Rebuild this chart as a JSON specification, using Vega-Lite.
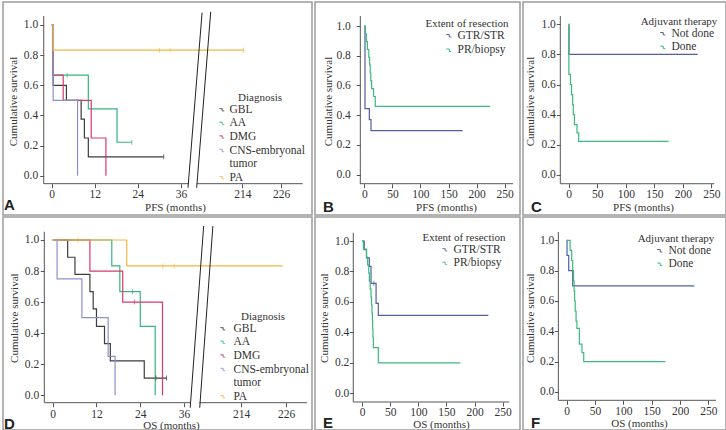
{
  "$schema": "https://vega.github.io/schema/vega-lite/v6.json",
  "padding": {"left": 2, "top": 1, "right": 0, "bottom": 0},
  "datasets": {
    "pfs_dx": [
      {"g": "GBL", "t": 0, "s": 1}, {"g": "GBL", "t": 0.4, "s": 0.6}, {"g": "GBL", "t": 4.1, "s": 0.5}, {"g": "GBL", "t": 8.2, "s": 0.375}, {"g": "GBL", "t": 9.1, "s": 0.25}, {"g": "GBL", "t": 10.2, "s": 0.125}, {"g": "GBL", "t": 31.2, "s": 0.125},
      {"g": "AA", "t": 0, "s": 1}, {"g": "AA", "t": 0.4, "s": 0.667}, {"g": "AA", "t": 10.2, "s": 0.444}, {"g": "AA", "t": 18.2, "s": 0.222}, {"g": "AA", "t": 22.3, "s": 0.222},
      {"g": "DMG", "t": 0, "s": 1}, {"g": "DMG", "t": 0.4, "s": 0.667}, {"g": "DMG", "t": 3.2, "s": 0.5}, {"g": "DMG", "t": 11.0, "s": 0.25}, {"g": "DMG", "t": 15.1, "s": 0},
      {"g": "CNS-embryonal tumor", "t": 0, "s": 1}, {"g": "CNS-embryonal tumor", "t": 0.4, "s": 0.5}, {"g": "CNS-embryonal tumor", "t": 7.2, "s": 0},
      {"g": "PA", "t": 0, "s": 1}, {"g": "PA", "t": 0.4, "s": 0.833}, {"g": "PA", "t": 214.4, "s": 0.833}
    ],
    "pfs_dx_cens": [
      {"g": "GBL", "t": 31.2, "s": 0.125},
      {"g": "AA", "t": 4.3, "s": 0.667}, {"g": "AA", "t": 22.3, "s": 0.222},
      {"g": "PA", "t": 30.0, "s": 0.833}, {"g": "PA", "t": 33.0, "s": 0.833}, {"g": "PA", "t": 214.4, "s": 0.833}
    ],
    "os_dx": [
      {"g": "GBL", "t": 0, "s": 1}, {"g": "GBL", "t": 4.1, "s": 0.889}, {"g": "GBL", "t": 6.1, "s": 0.778}, {"g": "GBL", "t": 10.2, "s": 0.667}, {"g": "GBL", "t": 11.1, "s": 0.556}, {"g": "GBL", "t": 12.0, "s": 0.444}, {"g": "GBL", "t": 14.2, "s": 0.333}, {"g": "GBL", "t": 15.8, "s": 0.222}, {"g": "GBL", "t": 25.1, "s": 0.111}, {"g": "GBL", "t": 31.2, "s": 0.111},
      {"g": "AA", "t": 0, "s": 1}, {"g": "AA", "t": 16.2, "s": 0.833}, {"g": "AA", "t": 18.4, "s": 0.667}, {"g": "AA", "t": 24.0, "s": 0.444}, {"g": "AA", "t": 28.1, "s": 0},
      {"g": "DMG", "t": 0, "s": 1}, {"g": "DMG", "t": 10.2, "s": 0.8}, {"g": "DMG", "t": 19.2, "s": 0.6}, {"g": "DMG", "t": 30.1, "s": 0},
      {"g": "CNS-embryonal tumor", "t": 0, "s": 1}, {"g": "CNS-embryonal tumor", "t": 1.2, "s": 0.75}, {"g": "CNS-embryonal tumor", "t": 8.0, "s": 0.5}, {"g": "CNS-embryonal tumor", "t": 15.2, "s": 0.25}, {"g": "CNS-embryonal tumor", "t": 17.1, "s": 0},
      {"g": "PA", "t": 0, "s": 1}, {"g": "PA", "t": 20.3, "s": 0.833}, {"g": "PA", "t": 225.1, "s": 0.833}
    ],
    "os_dx_cens": [
      {"g": "GBL", "t": 28.3, "s": 0.111}, {"g": "GBL", "t": 31.2, "s": 0.111},
      {"g": "AA", "t": 21.9, "s": 0.667},
      {"g": "DMG", "t": 22.4, "s": 0.6},
      {"g": "PA", "t": 7.0, "s": 1}, {"g": "PA", "t": 30.2, "s": 0.833}, {"g": "PA", "t": 33.3, "s": 0.833}
    ],
    "pfs_eor": [
      {"g": "GTR/STR", "t": 0, "s": 1}, {"g": "GTR/STR", "t": 1.2, "s": 0.444}, {"g": "GTR/STR", "t": 8.9, "s": 0.37}, {"g": "GTR/STR", "t": 11.9, "s": 0.296}, {"g": "GTR/STR", "t": 175.2, "s": 0.296},
      {"g": "PR/biopsy", "t": 0, "s": 1}, {"g": "PR/biopsy", "t": 1.8, "s": 0.947}, {"g": "PR/biopsy", "t": 3.5, "s": 0.895}, {"g": "PR/biopsy", "t": 5.5, "s": 0.842}, {"g": "PR/biopsy", "t": 8.0, "s": 0.789}, {"g": "PR/biopsy", "t": 9.5, "s": 0.737}, {"g": "PR/biopsy", "t": 10.5, "s": 0.684}, {"g": "PR/biopsy", "t": 11.5, "s": 0.632}, {"g": "PR/biopsy", "t": 13.0, "s": 0.579}, {"g": "PR/biopsy", "t": 16.5, "s": 0.526}, {"g": "PR/biopsy", "t": 19.5, "s": 0.46}, {"g": "PR/biopsy", "t": 224.0, "s": 0.46}
    ],
    "os_eor": [
      {"g": "GTR/STR", "t": 0, "s": 1}, {"g": "GTR/STR", "t": 4.0, "s": 0.944}, {"g": "GTR/STR", "t": 8.0, "s": 0.889}, {"g": "GTR/STR", "t": 13.0, "s": 0.833}, {"g": "GTR/STR", "t": 16.0, "s": 0.722}, {"g": "GTR/STR", "t": 25.0, "s": 0.59}, {"g": "GTR/STR", "t": 29.0, "s": 0.512}, {"g": "GTR/STR", "t": 224.4, "s": 0.512},
      {"g": "PR/biopsy", "t": 0, "s": 1}, {"g": "PR/biopsy", "t": 2.5, "s": 0.947}, {"g": "PR/biopsy", "t": 8.0, "s": 0.895}, {"g": "PR/biopsy", "t": 10.0, "s": 0.842}, {"g": "PR/biopsy", "t": 12.0, "s": 0.789}, {"g": "PR/biopsy", "t": 13.0, "s": 0.737}, {"g": "PR/biopsy", "t": 14.5, "s": 0.684}, {"g": "PR/biopsy", "t": 16.0, "s": 0.632}, {"g": "PR/biopsy", "t": 17.0, "s": 0.579}, {"g": "PR/biopsy", "t": 17.8, "s": 0.526}, {"g": "PR/biopsy", "t": 18.5, "s": 0.474}, {"g": "PR/biopsy", "t": 19.0, "s": 0.421}, {"g": "PR/biopsy", "t": 19.5, "s": 0.368}, {"g": "PR/biopsy", "t": 20.2, "s": 0.3}, {"g": "PR/biopsy", "t": 29.0, "s": 0.2}, {"g": "PR/biopsy", "t": 174.7, "s": 0.2}
    ],
    "os_eor_cens": [
      {"g": "GTR/STR", "t": 21.0, "s": 0.722}
    ],
    "pfs_adj": [
      {"g": "Not done", "t": 0, "s": 1}, {"g": "Not done", "t": 0.5, "s": 0.8}, {"g": "Not done", "t": 226.0, "s": 0.8},
      {"g": "Done", "t": 0, "s": 1}, {"g": "Done", "t": 0.3, "s": 0.667}, {"g": "Done", "t": 3.0, "s": 0.6}, {"g": "Done", "t": 5.0, "s": 0.533}, {"g": "Done", "t": 7.0, "s": 0.467}, {"g": "Done", "t": 8.0, "s": 0.4}, {"g": "Done", "t": 10.0, "s": 0.333}, {"g": "Done", "t": 14.5, "s": 0.278}, {"g": "Done", "t": 17.5, "s": 0.222}, {"g": "Done", "t": 175.0, "s": 0.222}
    ],
    "os_adj": [
      {"g": "Not done", "t": 0, "s": 1}, {"g": "Not done", "t": 0.5, "s": 0.9}, {"g": "Not done", "t": 3.5, "s": 0.8}, {"g": "Not done", "t": 10.6, "s": 0.7}, {"g": "Not done", "t": 225.3, "s": 0.7},
      {"g": "Done", "t": 0, "s": 1}, {"g": "Done", "t": 6.0, "s": 0.933}, {"g": "Done", "t": 8.8, "s": 0.867}, {"g": "Done", "t": 10.6, "s": 0.8}, {"g": "Done", "t": 12.0, "s": 0.733}, {"g": "Done", "t": 13.0, "s": 0.667}, {"g": "Done", "t": 14.0, "s": 0.6}, {"g": "Done", "t": 15.0, "s": 0.533}, {"g": "Done", "t": 16.5, "s": 0.467}, {"g": "Done", "t": 18.0, "s": 0.42}, {"g": "Done", "t": 22.3, "s": 0.315}, {"g": "Done", "t": 27.0, "s": 0.26}, {"g": "Done", "t": 30.0, "s": 0.2}, {"g": "Done", "t": 174.0, "s": 0.2}
    ]
  },
  "columns": 3,
  "spacing": {"row": 2, "column": 3},
  "bounds": "flush",
  "resolve": {"scale": {"x": "independent", "y": "independent", "color": "independent"}, "legend": {"color": "independent"}},
  "concat": [
    {
      "width": 309, "height": 213,
      "title": {"text": "A", "orient": "bottom", "anchor": "start", "frame": "group", "offset": -17, "dx": 1},
      "layer": [
        {
          "data": {"name": "pfs_dx"},
          "mark": {"type": "line", "interpolate": "step-after", "strokeWidth": 1.2},
          "encoding": {
            "x": {"field": "t", "type": "quantitative",
                  "scale": {"domain": [-13.57, 40, 199.4, 235.6], "range": [0, 192.3, 192.3, 309], "nice": false, "zero": false},
                  "axis": {"values": [0, 12, 24, 36, 214, 226], "title": "PFS (months)", "offset": -31.3, "titleX": 172, "titlePadding": 1.3, "labelPadding": 0.5}},
            "y": {"field": "s", "type": "quantitative",
                  "scale": {"domain": [-0.2608, 1.1526], "nice": false, "zero": false},
                  "axis": {"values": [0, 0.2, 0.4, 0.6, 0.8, 1], "format": ".1f", "title": "Cumulative survival", "offset": -40.7, "titleY": 99, "titlePadding": 5, "labelPadding": 2}},
            "color": {"field": "g", "type": "nominal",
                      "scale": {"domain": ["GBL", "AA", "DMG", "CNS-embryonal tumor", "tumor", "PA"], "range": ["#3d3d3d", "#35b57c", "#d8386f", "#8d90cc", "transparent", "#f3b73f"]},
                      "legend": {"title": "Diagnosis", "orient": "none", "legendX": 213, "legendY": 90, "labelOffset": 2,
                                 "labelExpr": "datum.label == 'CNS-embryonal tumor' ? 'CNS-embryonal' : datum.label"}}
          }
        },
        {
          "data": {"name": "pfs_dx_cens"},
          "mark": {"type": "tick", "orient": "vertical", "size": 5, "thickness": 1},
          "encoding": {"x": {"field": "t", "type": "quantitative"}, "y": {"field": "s", "type": "quantitative"}, "color": {"field": "g", "type": "nominal"}}
        },
        {"data": {"values": [{}]}, "mark": {"type": "rule", "color": "#555", "strokeWidth": 1},
         "encoding": {"x": {"datum": -2.23, "type": "quantitative"}, "x2": {"datum": 38.2}, "y": {"datum": -0.053, "type": "quantitative"}}},
        {"data": {"values": [{}]}, "mark": {"type": "rule", "color": "#555", "strokeWidth": 1},
         "encoding": {"x": {"datum": 199.9, "type": "quantitative"}, "x2": {"datum": 232.7}, "y": {"datum": -0.053, "type": "quantitative"}}},
        {"data": {"values": [{}]}, "mark": {"type": "rule", "color": "#555", "strokeWidth": 1},
         "encoding": {"x": {"datum": -2.23, "type": "quantitative"}, "y": {"datum": -0.053, "type": "quantitative"}, "y2": {"datum": 1.06}}},
        {"data": {"values": [{}]}, "mark": {"type": "rule", "color": "#222", "strokeWidth": 1},
         "encoding": {"x": {"datum": 37.97, "type": "quantitative"}, "x2": {"datum": 201.5}, "y": {"datum": -0.08, "type": "quantitative"}, "y2": {"datum": 1.082}}},
        {"data": {"values": [{}]}, "mark": {"type": "rule", "color": "#222", "strokeWidth": 1},
         "encoding": {"x": {"datum": 199.83, "type": "quantitative"}, "x2": {"datum": 204.18}, "y": {"datum": -0.08, "type": "quantitative"}, "y2": {"datum": 1.088}}}
      ]
    },
    {
      "width": 205, "height": 213,
      "title": {"text": "B", "orient": "bottom", "anchor": "start", "frame": "group", "offset": -15, "dx": 8},
      "layer": [
        {
          "data": {"name": "pfs_eor"},
          "mark": {"type": "line", "interpolate": "step-after", "strokeWidth": 1.2},
          "encoding": {
            "x": {"field": "t", "type": "quantitative",
                  "scale": {"domain": [-87.8, 277.2], "nice": false, "zero": false},
                  "axis": {"values": [0, 50, 100, 150, 200, 250], "title": "PFS (months)", "offset": -31.3, "titleX": 131, "titlePadding": 1.3, "labelPadding": 1}},
            "y": {"field": "s", "type": "quantitative",
                  "scale": {"domain": [-0.271, 1.1614], "nice": false, "zero": false},
                  "axis": {"values": [0, 0.2, 0.4, 0.6, 0.8, 1], "format": ".1f", "title": "Cumulative survival", "offset": -45.3, "titleY": 99, "titlePadding": 2, "labelPadding": 6}},
            "color": {"field": "g", "type": "nominal",
                      "scale": {"domain": ["GTR/STR", "PR/biopsy"], "range": ["#53609f", "#3cb97f"]},
                      "legend": {"title": "Extent of resection", "orient": "none", "legendX": 110, "legendY": 16, "symbolOffset": 15, "rowPadding": 1.5}}
          }
        },
        {"data": {"values": [{}]}, "mark": {"type": "rule", "color": "#555", "strokeWidth": 1},
         "encoding": {"x": {"datum": -8.0, "type": "quantitative"}, "x2": {"datum": 264.8}, "y": {"datum": -0.0605, "type": "quantitative"}}},
        {"data": {"values": [{}]}, "mark": {"type": "rule", "color": "#555", "strokeWidth": 1},
         "encoding": {"x": {"datum": -7.1, "type": "quantitative"}, "y": {"datum": -0.0605, "type": "quantitative"}, "y2": {"datum": 1.067}}}
      ]
    },
    {
      "width": 203, "height": 213,
      "title": {"text": "C", "orient": "bottom", "anchor": "start", "frame": "group", "offset": -15, "dx": 8},
      "layer": [
        {
          "data": {"name": "pfs_adj"},
          "mark": {"type": "line", "interpolate": "step-after", "strokeWidth": 1.2},
          "encoding": {
            "x": {"field": "t", "type": "quantitative",
                  "scale": {"domain": [-80, 275.4], "nice": false, "zero": false},
                  "axis": {"values": [0, 50, 100, 150, 200, 250], "title": "PFS (months)", "offset": -31.3, "titleX": 120, "titlePadding": 1.3, "labelPadding": 1}},
            "y": {"field": "s", "type": "quantitative",
                  "scale": {"domain": [-0.268, 1.149], "nice": false, "zero": false},
                  "axis": {"values": [0, 0.2, 0.4, 0.6, 0.8, 1], "format": ".1f", "title": "Cumulative survival", "offset": -37.3, "titleY": 99, "titlePadding": 5, "labelPadding": 1}},
            "color": {"field": "g", "type": "nominal",
                      "scale": {"domain": ["Not done", "Done"], "range": ["#53609f", "#3cb97f"]},
                      "legend": {"title": "Adjuvant therapy", "orient": "none", "legendX": 118, "legendY": 14, "symbolOffset": 13}}
          }
        },
        {"data": {"values": [{}]}, "mark": {"type": "rule", "color": "#555", "strokeWidth": 1},
         "encoding": {"x": {"datum": -14.7, "type": "quantitative"}, "x2": {"datum": 254.9}, "y": {"datum": -0.06, "type": "quantitative"}}},
        {"data": {"values": [{}]}, "mark": {"type": "rule", "color": "#555", "strokeWidth": 1},
         "encoding": {"x": {"datum": -14.7, "type": "quantitative"}, "y": {"datum": -0.06, "type": "quantitative"}, "y2": {"datum": 1.056}}}
      ]
    },
    {
      "width": 309, "height": 213,
      "title": {"text": "D", "orient": "bottom", "anchor": "start", "frame": "group", "offset": -14, "dx": 1},
      "layer": [
        {
          "data": {"name": "os_dx"},
          "mark": {"type": "line", "interpolate": "step-after", "strokeWidth": 1.2},
          "encoding": {
            "x": {"field": "t", "type": "quantitative",
                  "scale": {"domain": [-13.63, 40, 202.7, 232.9], "range": [0, 195.6, 195.6, 309], "nice": false, "zero": false},
                  "axis": {"values": [0, 12, 24, 36, 214, 226], "title": "OS (months)", "offset": -27.3, "titleX": 168, "titlePadding": 0, "labelPadding": 1.5}},
            "y": {"field": "s", "type": "quantitative",
                  "scale": {"domain": [-0.2234, 1.148], "nice": false, "zero": false},
                  "axis": {"values": [0, 0.2, 0.4, 0.6, 0.8, 1], "format": ".1f", "title": "Cumulative survival", "offset": -41.3, "titleY": 100.7, "titlePadding": 5, "labelPadding": 1.6}},
            "color": {"field": "g", "type": "nominal",
                      "scale": {"domain": ["GBL", "AA", "DMG", "CNS-embryonal tumor", "tumor", "PA"], "range": ["#3d3d3d", "#35b57c", "#d8386f", "#8d90cc", "transparent", "#f3b73f"]},
                      "legend": {"title": "Diagnosis", "orient": "none", "legendX": 214, "legendY": 94, "labelOffset": 5,
                                 "labelExpr": "datum.label == 'CNS-embryonal tumor' ? 'CNS-embryonal' : datum.label"}}
          }
        },
        {
          "data": {"name": "os_dx_cens"},
          "mark": {"type": "tick", "orient": "vertical", "size": 5, "thickness": 1},
          "encoding": {"x": {"field": "t", "type": "quantitative"}, "y": {"field": "s", "type": "quantitative"}, "color": {"field": "g", "type": "nominal"}}
        },
        {"data": {"values": [{}]}, "mark": {"type": "rule", "color": "#555", "strokeWidth": 1},
         "encoding": {"x": {"datum": -2.3, "type": "quantitative"}, "x2": {"datum": 37.9}, "y": {"datum": -0.0476, "type": "quantitative"}}},
        {"data": {"values": [{}]}, "mark": {"type": "rule", "color": "#555", "strokeWidth": 1},
         "encoding": {"x": {"datum": 202.9, "type": "quantitative"}, "x2": {"datum": 231.6}, "y": {"datum": -0.0476, "type": "quantitative"}}},
        {"data": {"values": [{}]}, "mark": {"type": "rule", "color": "#555", "strokeWidth": 1},
         "encoding": {"x": {"datum": -2.3, "type": "quantitative"}, "y": {"datum": -0.0476, "type": "quantitative"}, "y2": {"datum": 1.053}}},
        {"data": {"values": [{}]}, "mark": {"type": "rule", "color": "#222", "strokeWidth": 1},
         "encoding": {"x": {"datum": 37.7, "type": "quantitative"}, "x2": {"datum": 204.05}, "y": {"datum": -0.08, "type": "quantitative"}, "y2": {"datum": 1.09}}},
        {"data": {"values": [{}]}, "mark": {"type": "rule", "color": "#222", "strokeWidth": 1},
         "encoding": {"x": {"datum": 203.0, "type": "quantitative"}, "x2": {"datum": 206.5}, "y": {"datum": -0.08, "type": "quantitative"}, "y2": {"datum": 1.09}}}
      ]
    },
    {
      "width": 205, "height": 213,
      "title": {"text": "E", "orient": "bottom", "anchor": "start", "frame": "group", "offset": -14, "dx": 8},
      "layer": [
        {
          "data": {"name": "os_eor"},
          "mark": {"type": "line", "interpolate": "step-after", "strokeWidth": 1.2},
          "encoding": {
            "x": {"field": "t", "type": "quantitative",
                  "scale": {"domain": [-83.5, 280.7], "nice": false, "zero": false},
                  "axis": {"values": [0, 50, 100, 150, 200, 250], "title": "OS (months)", "offset": -28, "titleX": 126, "titlePadding": 0, "labelPadding": 0.5}},
            "y": {"field": "s", "type": "quantitative",
                  "scale": {"domain": [-0.241, 1.1576], "nice": false, "zero": false},
                  "axis": {"values": [0, 0.2, 0.4, 0.6, 0.8, 1], "format": ".1f", "title": "Cumulative survival", "offset": -38.3, "titleY": 100.7, "titlePadding": 4.5, "labelPadding": 0.5}},
            "color": {"field": "g", "type": "nominal",
                      "scale": {"domain": ["GTR/STR", "PR/biopsy"], "range": ["#53609f", "#3cb97f"]},
                      "legend": {"title": "Extent of resection", "orient": "none", "legendX": 107, "legendY": 15, "symbolOffset": 13}}
          }
        },
        {
          "data": {"name": "os_eor_cens"},
          "mark": {"type": "tick", "orient": "vertical", "size": 5, "thickness": 1},
          "encoding": {"x": {"field": "t", "type": "quantitative"}, "y": {"field": "s", "type": "quantitative"}, "color": {"field": "g", "type": "nominal"}}
        },
        {"data": {"values": [{}]}, "mark": {"type": "rule", "color": "#555", "strokeWidth": 1},
         "encoding": {"x": {"datum": -15.5, "type": "quantitative"}, "x2": {"datum": 261.7}, "y": {"datum": -0.0571, "type": "quantitative"}}},
        {"data": {"values": [{}]}, "mark": {"type": "rule", "color": "#555", "strokeWidth": 1},
         "encoding": {"x": {"datum": -15.5, "type": "quantitative"}, "y": {"datum": -0.0571, "type": "quantitative"}, "y2": {"datum": 1.054}}}
      ]
    },
    {
      "width": 203, "height": 213,
      "title": {"text": "F", "orient": "bottom", "anchor": "start", "frame": "group", "offset": -14, "dx": 8},
      "layer": [
        {
          "data": {"name": "os_adj"},
          "mark": {"type": "line", "interpolate": "step-after", "strokeWidth": 1.2},
          "encoding": {
            "x": {"field": "t", "type": "quantitative",
                  "scale": {"domain": [-77.2, 281.2], "nice": false, "zero": false},
                  "axis": {"values": [0, 50, 100, 150, 200, 250], "title": "OS (months)", "offset": -29.7, "titleX": 116, "titlePadding": 0, "labelPadding": 1.2}},
            "y": {"field": "s", "type": "quantitative",
                  "scale": {"domain": [-0.2505, 1.1536], "nice": false, "zero": false},
                  "axis": {"values": [0, 0.2, 0.4, 0.6, 0.8, 1], "format": ".1f", "title": "Cumulative survival", "offset": -35.3, "titleY": 100.7, "titlePadding": 3.8, "labelPadding": 0.5}},
            "color": {"field": "g", "type": "nominal",
                      "scale": {"domain": ["Not done", "Done"], "range": ["#53609f", "#3cb97f"]},
                      "legend": {"title": "Adjuvant therapy", "orient": "none", "legendX": 115, "legendY": 16, "symbolOffset": 13}}
          }
        },
        {"data": {"values": [{}]}, "mark": {"type": "rule", "color": "#555", "strokeWidth": 1},
         "encoding": {"x": {"datum": -14.8, "type": "quantitative"}, "x2": {"datum": 263.6}, "y": {"datum": -0.0547, "type": "quantitative"}}},
        {"data": {"values": [{}]}, "mark": {"type": "rule", "color": "#555", "strokeWidth": 1},
         "encoding": {"x": {"datum": -14.8, "type": "quantitative"}, "y": {"datum": -0.0547, "type": "quantitative"}, "y2": {"datum": 1.055}}}
      ]
    }
  ],
  "config": {
    "view": {"stroke": "#9c9c9c", "strokeWidth": 1.5},
    "font": "Liberation Serif",
    "axis": {
      "domain": false, "grid": false,
      "labelFont": "Liberation Serif", "labelFontSize": 11.5, "labelColor": "#333",
      "labelOverlap": false, "labelFlush": false,
      "titleFont": "Liberation Serif", "titleFontSize": 11, "titleFontWeight": "normal", "titleColor": "#333",
      "tickColor": "#555", "tickSize": 4, "tickWidth": 1
    },
    "legend": {
      "titleFont": "Liberation Serif", "titleFontSize": 11, "titleFontWeight": "normal", "titleColor": "#333",
      "titleAnchor": "middle", "titleAlign": "center", "titlePadding": 1,
      "labelFont": "Liberation Serif", "labelFontSize": 11.5, "labelColor": "#333", "labelOffset": 3,
      "symbolType": "M-1,-0.5L0.2,-0.5L0.2,0.5L1,0.5", "symbolSize": 25, "symbolStrokeWidth": 1,
      "symbolFillColor": "transparent", "rowPadding": 0.6, "direction": "vertical", "padding": 0
    },
    "title": {"font": "Liberation Sans", "fontWeight": "bold", "fontSize": 15, "color": "#222"}
  }
}
